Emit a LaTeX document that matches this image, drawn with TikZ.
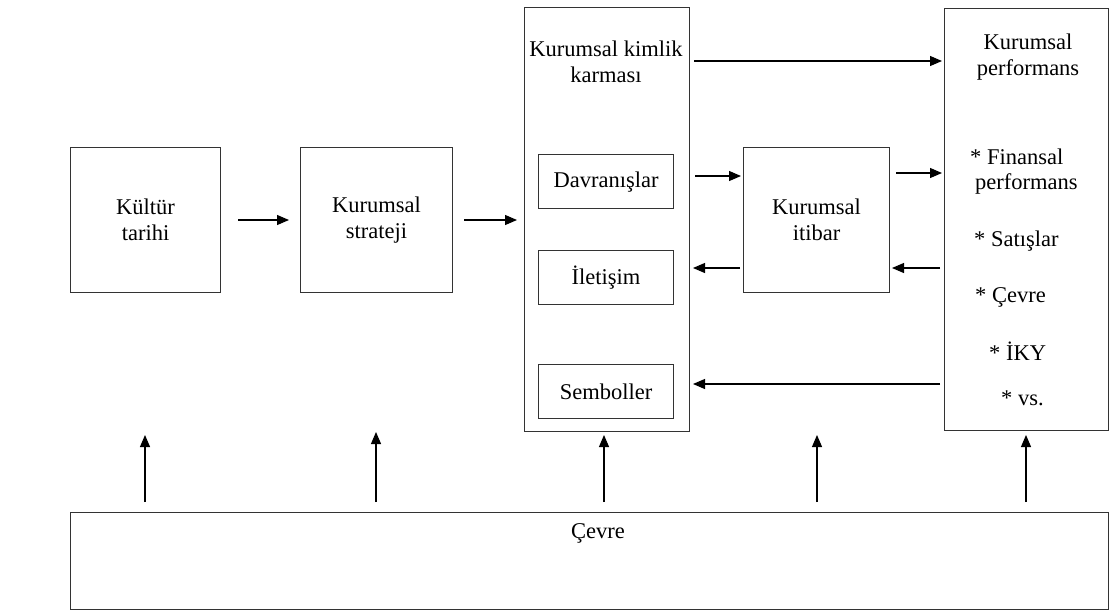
\documentclass[tikz,border=0pt]{standalone}
\usepackage{fontspec}
\setmainfont{Liberation Serif}
\usetikzlibrary{arrows.meta}
\begin{document}
\begin{tikzpicture}[x=1pt,y=-1pt,
  box/.style={draw=black!80,line width=1.2pt},
  arr/.style={line width=1.1pt,-{Triangle[length=12pt,width=10pt]}},
  lbl/.style={font=\fontsize{22.5}{26}\selectfont,align=center,inner sep=0pt},
  item/.style={font=\fontsize{22.5}{26}\selectfont,anchor=west,inner sep=0pt}]
\useasboundingbox (0,0) rectangle (1110,613);
% boxes
\node[box,minimum width=150pt,minimum height=145pt,anchor=north west] (kultur) at (70,147) {};
\node[lbl] at (kultur.center) {Kültür\\tarihi};
\node[box,minimum width=152pt,minimum height=145pt,anchor=north west] (strateji) at (300,147) {};
\node[lbl] at (strateji.center) {Kurumsal\\strateji};
\node[box,minimum width=165pt,minimum height=424pt,anchor=north west] (kimlik) at (524,7) {};
\node[lbl] at (606,62) {Kurumsal kimlik\\karması};
\node[box,minimum width=135pt,minimum height=54pt,anchor=north west] (davr) at (538,154) {};
\node[lbl] at (davr.center) {Davranışlar};
\node[box,minimum width=135pt,minimum height=54pt,anchor=north west] (ilet) at (538,250) {};
\node[lbl] at (ilet.center) {İletişim};
\node[box,minimum width=135pt,minimum height=54pt,anchor=north west] (semb) at (538,364) {};
\node[lbl] at (semb.center) {Semboller};
\node[box,minimum width=146pt,minimum height=145pt,anchor=north west] (itibar) at (743,147) {};
\node[lbl] at (itibar.center) {Kurumsal\\itibar};
\node[box,minimum width=164pt,minimum height=422pt,anchor=north west] (perf) at (944,8) {};
\node[lbl] at (1028,57) {Kurumsal\\performans};
\node[item] (p1) at (970,157) {* Finansal};
\node[item] (p2) at (975,184) {performans};
\node[item] (p3) at (974,241) {* Satışlar};
\node[item] (p4) at (975,297) {* Çevre};
\node[item] (p5) at (989,351) {* İKY};
\node[item] (p6) at (1001,398) {* vs.};
\node[box,minimum width=1038pt,minimum height=97pt,anchor=north west] (cevre) at (70,512) {};
\node[lbl] at (598,533) {Çevre};
% horizontal arrows
\coordinate (a1s) at (238,220); \coordinate (a1e) at (289,220);
\draw[arr] (a1s) -- (a1e);
\coordinate (a2s) at (464,220); \coordinate (a2e) at (517,220);
\draw[arr] (a2s) -- (a2e);
\coordinate (a3s) at (694,61); \coordinate (a3e) at (942,61);
\draw[arr] (a3s) -- (a3e);
\coordinate (a4s) at (695,176); \coordinate (a4e) at (741,176);
\draw[arr] (a4s) -- (a4e);
\coordinate (a5s) at (896,173); \coordinate (a5e) at (942,173);
\draw[arr] (a5s) -- (a5e);
\coordinate (a6s) at (740,268); \coordinate (a6e) at (693,268);
\draw[arr] (a6s) -- (a6e);
\coordinate (a7s) at (940,268); \coordinate (a7e) at (892,268);
\draw[arr] (a7s) -- (a7e);
\coordinate (a8s) at (940,384); \coordinate (a8e) at (693,384);
\draw[arr] (a8s) -- (a8e);
% vertical arrows
\foreach \x/\t in {145/435,376/432,604/435,817/435,1026/435}{
  \draw[arr] (\x,502) -- (\x,\t);
}
\end{tikzpicture}
\end{document}
